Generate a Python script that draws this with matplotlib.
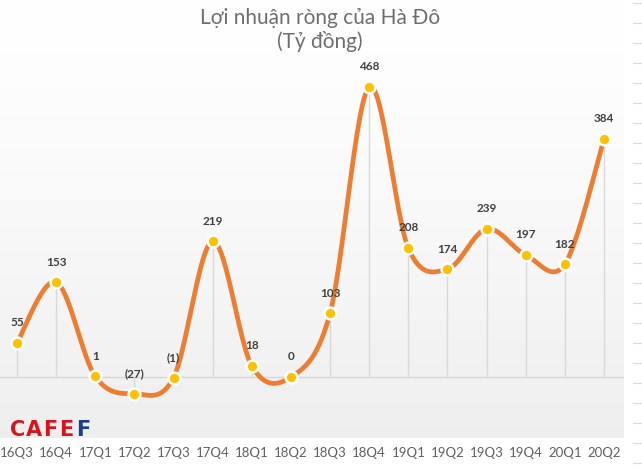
import numpy as np
import matplotlib
matplotlib.use("Agg")
import matplotlib.pyplot as plt
from matplotlib.lines import Line2D

categories = ["16Q3", "16Q4", "17Q1", "17Q2", "17Q3", "17Q4", "18Q1", "18Q2",
              "18Q3", "18Q4", "19Q1", "19Q2", "19Q3", "19Q4", "20Q1", "20Q2"]
profit = [55, 153, 1, -27, -1, 219, 18, 0, 103, 468, 208, 174, 239, 197, 182, 384]
title_lines = ["Lợi nhuận ròng của Hà Đô", "(Tỷ đồng)"]

W, H = 642, 471
fig = plt.figure(figsize=(W / 100, H / 100), dpi=100)
ax = fig.add_axes([0, (H - 438) / H, 624 / W, 438 / H])

x = np.arange(len(profit), dtype=float)
y = np.array(profit, dtype=float)

# scales
px_per_unit = 290 / 468
step = 39.13
xlim = (-17 / step, (624 - 17) / step)
ylim = (-61 / px_per_unit, 377 / px_per_unit)

# background gradient
grad = np.linspace(0, 1, 256).reshape(-1, 1)
cols = np.zeros((256, 1, 3))
top = np.array([1.0, 1.0, 1.0])
bot = np.array([0.935, 0.935, 0.935])
cols[:, 0, :] = top + (bot - top) * grad ** 1.3
ax.imshow(cols, extent=[xlim[0], xlim[1], ylim[0], ylim[1]],
          aspect="auto", zorder=0, origin="upper")
ax.set_xlim(*xlim)
ax.set_ylim(*ylim)

# zero line and drop lines
ax.axhline(0, color="#D6D6D6", lw=1, zorder=1)
ax.vlines(x, 0, y, color="#D9D9D9", lw=1, zorder=1)

# Excel-style smoothed line (Catmull-Rom as cubic Bezier)
xs, ys = [], []
n = len(x)
t = np.linspace(0, 1, 30)
for i in range(n - 1):
    p0 = np.array([x[max(i - 1, 0)], y[max(i - 1, 0)]])
    p1 = np.array([x[i], y[i]])
    p2 = np.array([x[i + 1], y[i + 1]])
    p3 = np.array([x[min(i + 2, n - 1)], y[min(i + 2, n - 1)]])
    c1 = p1 + (p2 - p0) / 6
    c2 = p2 - (p3 - p1) / 6
    b = ((1 - t) ** 3)[:, None] * p1 + (3 * (1 - t) ** 2 * t)[:, None] * c1 \
        + (3 * (1 - t) * t ** 2)[:, None] * c2 + (t ** 3)[:, None] * p2
    xs.extend(b[:, 0]); ys.extend(b[:, 1])
ax.plot(xs, ys, color="#ED7D31", lw=3.4, solid_capstyle="butt", zorder=2)
ax.plot(x, y, ls="none", marker="o", ms=8.5, mfc="#FFC000", mec="white", mew=1.8, zorder=3)

# data labels
for xi, yi in zip(x, y):
    lab = f"({abs(int(yi))})" if yi < 0 else f"{int(yi)}"
    ax.annotate(lab, (xi, yi), xytext=(0, 14.5), textcoords="offset points",
                ha="center", va="center", fontsize=8.5, fontweight="bold",
                color="#404040", family=["Lato", "DejaVu Sans"], zorder=4)

ax.set_axis_off()

# category labels
for xi, c in zip(x, categories):
    px = ax.transData.transform((xi, 0))[0]
    fig.text(px / W, 1 - 453 / H, c, ha="center", va="center", fontsize=9.5,
             color="#606060", family=["Lato", "DejaVu Sans"])

# title
for k, line in enumerate(title_lines):
    fig.text(320 / W, 1 - (18 + 23 * k) / H, line, ha="center", va="center", fontsize=15,
             color="#6E6E6E", family=["Lato", "DejaVu Sans"], fontweight="normal")

# CAFEF logo letters
logo = ["C", "A", "F", "E", "F"]
logo_colors = ["#D7141E", "#D7141E", "#D7141E", "#D7141E", "#1E3C96"]
for k, (ch, cc) in enumerate(zip(logo, logo_colors)):
    fig.text((18 + k * 16.2) / W, 1 - 429.5 / H, ch, ha="center", va="center",
             fontsize=15, fontweight="heavy", color=cc, family="DejaVu Sans")

# right side faint tick marks
for yy in range(3, 471, 20):
    fig.add_artist(Line2D([633 / W, 642 / W], [1 - yy / H, 1 - yy / H],
                          color="#D9D9D9", lw=0.8))

fig.savefig("out.png", dpi=100, facecolor="white")
